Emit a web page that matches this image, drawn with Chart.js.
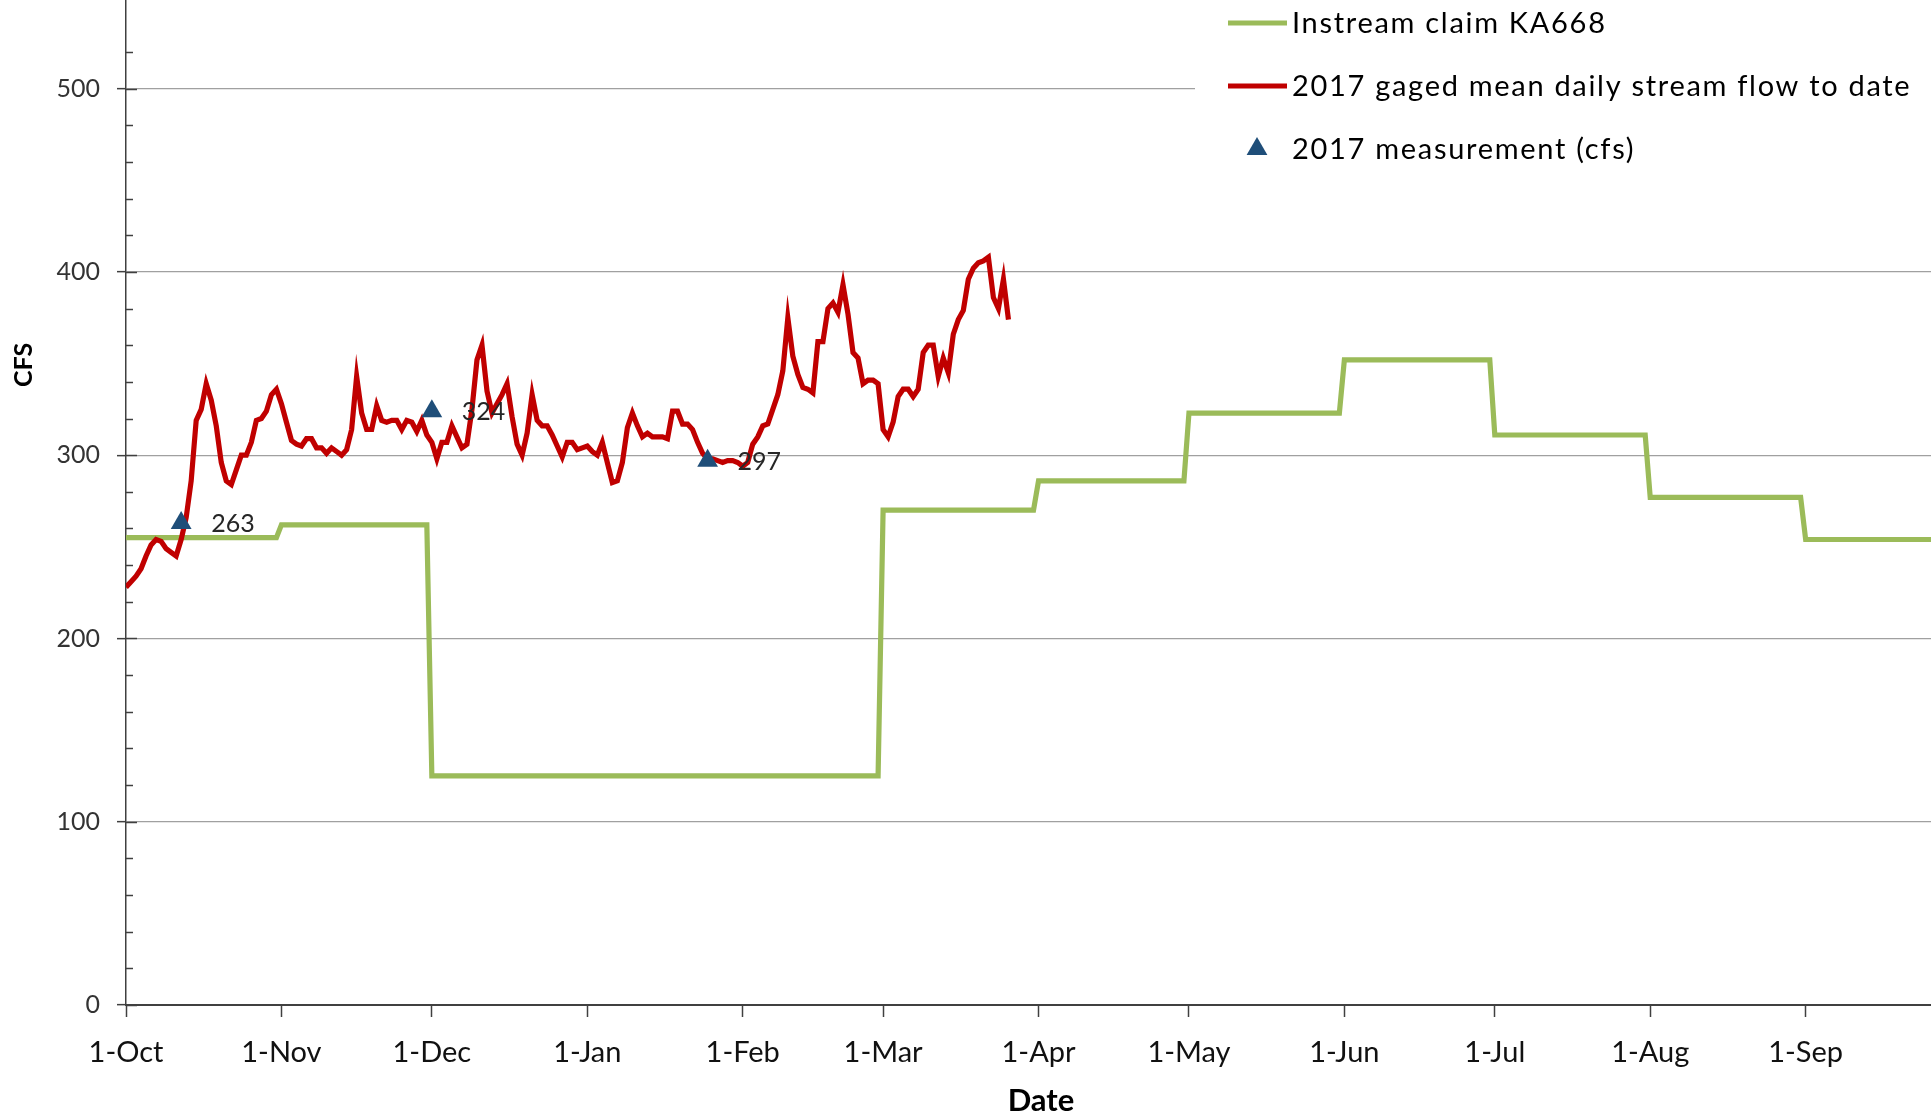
<!DOCTYPE html>
<html>
<head>
<meta charset="utf-8">
<title>Instream claim KA668 vs 2017 stream flow</title>
<script src="https://cdn.jsdelivr.net/npm/chart.js@4.4.1/dist/chart.umd.min.js"></script>
<style>
  html, body { margin: 0; padding: 0; background: #fff; overflow: hidden; }
  #flowChart { position: absolute; left: 0; top: -3px; }
</style>
</head>
<body>
<canvas id="flowChart" width="1931" height="1121"></canvas>
<script>
// x axis: days counted from 1-Oct (water year 2017)
const monthLabels = ["1-Oct", "1-Nov", "1-Dec", "1-Jan", "1-Feb", "1-Mar", "1-Apr", "1-May", "1-Jun", "1-Jul", "1-Aug", "1-Sep"];
const monthStartDays = [0, 31, 61, 92, 123, 151, 182, 212, 243, 273, 304, 335];
const yearDays = 365;

// instream claim, one value per month (cfs)
const claimCfs = [255, 262, 125, 125, 125, 270, 286, 323, 352, 311, 277, 254];

// gaged mean daily flow from 1-Oct, one value per day (cfs)
const flowCfs = [
  228, 231, 234, 238, 245, 251, 254, 253, 249, 247,
  245, 254, 266, 286, 319, 325, 339, 330, 316, 296,
  286, 284, 292, 300, 300, 307, 319, 320, 324, 333,
  336, 328, 318, 308, 306, 305, 309, 309, 304, 304,
  301, 304, 302, 300, 303, 314, 343, 323, 314, 314,
  327, 319, 318, 319, 319, 314, 319, 318, 313, 319,
  311, 307, 298, 307, 307, 316, 310, 304, 306, 325,
  352, 360, 335, 323, 328, 333, 339, 321, 306, 300,
  312, 333, 319, 316, 316, 311, 305, 299, 307, 307,
  303, 304, 305, 302, 300, 307, 296, 285, 286, 296,
  315, 323, 316, 310, 312, 310, 310, 310, 309, 324,
  324, 317, 317, 314, 307, 301, 298, 298, 297, 296,
  297, 297, 296, 294, 296, 306, 310, 316, 317, 325,
  333, 346, 375, 354, 344, 337, 336, 334, 362, 362,
  380, 383, 378, 393, 377, 356, 353, 339, 341, 341,
  339, 314, 310, 318, 332, 336, 336, 332, 336, 356,
  360, 360, 343, 353, 345, 366, 374, 379, 396, 402,
  405, 406, 408, 386, 380, 396, 374
];

// field measurements
const measureDays = [11, 61, 116];
const measureCfs = [263, 324, 297];

const claimPoints = [];
claimCfs.forEach((v, i) => {
  const end = (i < monthStartDays.length - 1 ? monthStartDays[i + 1] : yearDays) - 1;
  claimPoints.push({ x: monthStartDays[i], y: v });
  claimPoints.push({ x: end, y: v });
});
const flowPoints = flowCfs.map((v, i) => ({ x: i, y: v }));
const measurePoints = measureDays.map((d, i) => ({ x: d, y: measureCfs[i] }));

const axisColor = "#404040";

// short inside ticks on the value axis (minor every 20, major every 100)
const innerTicks = {
  id: "innerTicks",
  beforeDatasetsDraw(chart) {
    const y = chart.scales.y;
    const ctx = chart.ctx;
    const x0 = chart.chartArea.left;
    ctx.save();
    ctx.strokeStyle = axisColor;
    ctx.lineWidth = 1.5;
    y.ticks.forEach(t => {
      if (t.value % 20 !== 0) return;
      const len = t.value % 100 === 0 ? 11 : 7;
      const py = Math.round(y.getPixelForValue(t.value)) + 0.5;
      ctx.beginPath();
      ctx.moveTo(x0, py);
      ctx.lineTo(x0 + len, py);
      ctx.stroke();
    });
    ctx.restore();
  }
};

// value labels beside the measurement triangles, plus both axis titles
const extras = {
  id: "extras",
  afterDatasetsDraw(chart) {
    const ctx = chart.ctx;
    const meta = chart.getDatasetMeta(2);
    ctx.save();
    ctx.font = "25px Lato";
    ctx.fillStyle = "#262626";
    ctx.textAlign = "left";
    ctx.textBaseline = "middle";
    meta.data.forEach((pt, i) => {
      ctx.fillText(String(measureCfs[i]), pt.x + 30, pt.y + 1);
    });
    ctx.font = "bold 31px Lato";
    ctx.fillStyle = "#000";
    ctx.textAlign = "center";
    ctx.fillText("Date", 1041, 1104);
    ctx.translate(24, 368);
    ctx.rotate(-Math.PI / 2);
    ctx.font = "bold 25px Lato";
    ctx.fillText("CFS", 0, 0);
    ctx.restore();
  }
};

// legend box in the top right corner
const legendBox = {
  id: "legendBox",
  afterDraw(chart) {
    const ctx = chart.ctx;
    const rows = [26, 89, 152];
    ctx.save();
    ctx.fillStyle = "#fff";
    ctx.fillRect(1195, 0, 736, 180);
    ctx.font = "29px Lato";
    ctx.letterSpacing = "1.7px";
    ctx.textAlign = "left";
    ctx.textBaseline = "middle";
    chart.data.datasets.forEach((ds, i) => {
      const y = rows[i];
      if (ds.showLine === false) {
        const r = 12;
        ctx.fillStyle = ds.backgroundColor;
        ctx.beginPath();
        ctx.moveTo(1257, y - r);
        ctx.lineTo(1257 + r * 0.866, y + r / 2);
        ctx.lineTo(1257 - r * 0.866, y + r / 2);
        ctx.closePath();
        ctx.fill();
      } else {
        ctx.strokeStyle = ds.borderColor;
        ctx.lineWidth = 5;
        ctx.beginPath();
        ctx.moveTo(1228, y);
        ctx.lineTo(1287, y);
        ctx.stroke();
      }
      ctx.fillStyle = "#000";
      ctx.fillText(ds.label, 1292, y + 1);
    });
    ctx.restore();
  }
};

Chart.defaults.font.family = "Lato, 'Open Sans', sans-serif";

const config = {
  type: "line",
  data: {
    datasets: [
      {
        label: "Instream claim KA668",
        data: claimPoints,
        borderColor: "#9BBB59",
        borderWidth: 5.2,
        pointRadius: 0,
        tension: 0,
        order: 3,
      },
      {
        label: "2017 gaged mean daily stream flow to date",
        data: flowPoints,
        borderColor: "#C00000",
        borderWidth: 5.2,
        pointRadius: 0,
        tension: 0,
        order: 2,
      },
      {
        label: "2017 measurement (cfs)",
        data: measurePoints,
        showLine: false,
        pointStyle: "triangle",
        pointRadius: 12,
        backgroundColor: "#1F4E79",
        borderWidth: 0,
        order: 1,
      },
    ],
  },
  options: {
    responsive: false,
    animation: false,
    events: [],
    layout: { padding: 0, autoPadding: false },
    plugins: {
      legend: { display: false },
      tooltip: { enabled: false },
    },
    scales: {
      x: {
        type: "linear",
        min: 0,
        max: 360,
        afterBuildTicks: (scale) => {
          scale.ticks = monthStartDays.map(v => ({ value: v }));
        },
        afterFit: (scale) => {
          scale.height = 113;
          scale.paddingLeft = 0;
          scale.paddingRight = 0;
        },
        ticks: {
          callback: (value) => monthLabels[monthStartDays.indexOf(value)],
          font: { size: 29 },
          color: "#111",
          padding: 18,
          maxRotation: 0,
          autoSkip: false,
        },
        grid: {
          drawOnChartArea: false,
          drawTicks: true,
          tickLength: 12,
          tickColor: axisColor,
          tickWidth: 1.5,
        },
        border: { display: true, color: axisColor, width: 2 },
      },
      y: {
        min: 0,
        max: 550,
        afterFit: (scale) => {
          scale.width = 126;
          scale.paddingTop = 0;
          scale.paddingBottom = 0;
        },
        ticks: {
          stepSize: 20,
          callback: (value) => (value % 100 === 0 ? value : ""),
          font: { size: 25 },
          color: "#333",
          padding: 17,
        },
        grid: {
          color: (c) => (c.tick && c.tick.value > 0 && c.tick.value % 100 === 0 ? "#a0a0a0" : "rgba(0,0,0,0)"),
          lineWidth: 1.3,
          tickLength: 9,
          tickColor: (c) => (c.tick && c.tick.value % 100 === 0 ? axisColor : "rgba(0,0,0,0)"),
          tickWidth: 1.5,
        },
        border: { display: true, color: axisColor, width: 1.5 },
      },
    },
  },
  plugins: [innerTicks, extras, legendBox],
};

new Chart(document.getElementById("flowChart").getContext("2d"), config);
</script>
</body>
</html>
